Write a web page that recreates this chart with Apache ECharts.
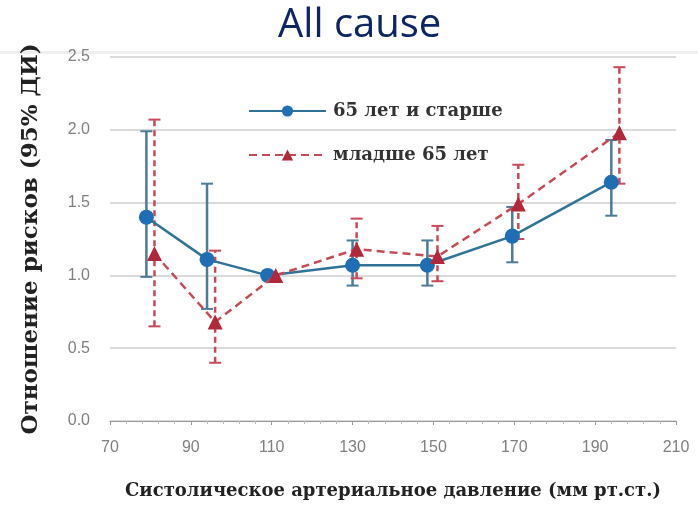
<!DOCTYPE html>
<html>
<head>
<meta charset="utf-8">
<script src="https://cdn.jsdelivr.net/npm/echarts@6/dist/echarts.min.js"></script>
<style>html,body{margin:0;padding:0;background:#fff}#c{width:698px;height:505px}</style>
</head>
<body>
<div id="c"></div>
<script>
var titleText = 'All cause';
var xAxisName = 'Систолическое артериальное давление (мм рт.ст.)';
var yAxisName = 'Отношение рисков (95% ДИ)';
var seriesNames = ['65 лет и старше', 'младше 65 лет'];

var oldX  = [79, 94, 109, 130, 148.5, 169.5, 194];
var oldY  = [1.40, 1.11, 1.00, 1.07, 1.07, 1.27, 1.64];
var oldLo = [0.99, 0.77, 1.00, 0.93, 0.93, 1.09, 1.41];
var oldHi = [1.99, 1.63, 1.00, 1.24, 1.24, 1.47, 1.93];

var youngX  = [81, 96, 111, 131, 151, 171, 196];
var youngY  = [1.15, 0.68, 1.00, 1.18, 1.13, 1.49, 1.98];
var youngLo = [0.65, 0.40, 1.00, 0.98, 0.96, 1.25, 1.63];
var youngHi = [2.07, 1.17, 1.00, 1.39, 1.34, 1.76, 2.43];

var xTicks = [70, 90, 110, 130, 150, 170, 190, 210];
var yTicks = [0, 0.5, 1.0, 1.5, 2.0, 2.5];

function zip2(a, b) { return a.map(function (v, i) { return [v, b[i]]; }); }

function errSeries(xs, lo, hi, color, dashed) {
  var data = [];
  xs.forEach(function (x, i) { if (hi[i] !== lo[i]) data.push([x, lo[i], hi[i]]); });
  return {
    type: 'custom',
    data: data,
    encode: { x: 0, y: [1, 2] },
    z: 1,
    silent: true,
    renderItem: function (params, api) {
      var x = api.value(0);
      var p1 = api.coord([x, api.value(1)]);
      var p2 = api.coord([x, api.value(2)]);
      var w = 6;
      var st = { stroke: color, lineWidth: 2.5, lineDash: dashed ? [6, 4] : null };
      var cst = { stroke: color, lineWidth: 2 };
      return {
        type: 'group',
        children: [
          { type: 'line', shape: { x1: p1[0], y1: p1[1], x2: p2[0], y2: p2[1] }, style: st },
          { type: 'line', shape: { x1: p1[0] - w, y1: p1[1], x2: p1[0] + w, y2: p1[1] }, style: cst },
          { type: 'line', shape: { x1: p2[0] - w, y1: p2[1], x2: p2[0] + w, y2: p2[1] }, style: cst }
        ]
      };
    }
  };
}

var chart = echarts.init(document.getElementById('c'), null, { renderer: 'canvas' });
chart.setOption({
  backgroundColor: '#fff',
  animation: false,
  title: {
    text: titleText,
    left: 273,
    top: 1,
    textStyle: { fontFamily: 'Open Sans', fontSize: 40, fontWeight: 'normal', color: '#0d2466' }
  },
  graphic: [
    { type: 'rect', shape: { x: 0, y: 51, width: 698, height: 3 }, style: { fill: '#efefef' }, silent: true }
  ],
  legend: {
    orient: 'vertical',
    left: 243,
    top: 97,
    itemWidth: 77,
    itemHeight: 14,
    itemGap: 26,
    data: seriesNames,
    textStyle: { fontFamily: 'DejaVu Serif', fontWeight: 'bold', fontSize: 18, color: '#333', padding: [0, 0, 0, 2] }
  },
  grid: { left: 110, right: 22, top: 57, bottom: 82 },
  xAxis: {
    type: 'value',
    min: 70, max: 210, interval: 20,
    name: xAxisName,
    nameLocation: 'middle',
    nameGap: 61,
    nameTextStyle: { fontFamily: 'DejaVu Serif', fontWeight: 'bold', fontSize: 18, color: '#222' },
    axisLine: { show: true, lineStyle: { color: '#999', width: 1.2 } },
    axisTick: { show: true, inside: false, length: 4, lineStyle: { color: '#999' } },
    minorTick: { show: true, splitNumber: 5, length: 3, lineStyle: { color: '#bbb' } },
    axisLabel: { margin: 19, fontFamily: 'Liberation Sans', fontSize: 16, color: '#808080', formatter: function (v) { return xTicks.indexOf(v) >= 0 ? String(v) : ''; } },
    splitLine: { show: false }
  },
  yAxis: {
    type: 'value',
    min: 0, max: 2.5, interval: 0.5,
    name: yAxisName,
    nameLocation: 'middle',
    nameGap: 67,
    nameRotate: 90,
    nameTextStyle: { fontFamily: 'DejaVu Serif', fontWeight: 'bold', fontSize: 23, color: '#222' },
    axisLine: { show: false },
    axisTick: { show: false },
    axisLabel: { margin: 20, fontFamily: 'Liberation Sans', fontSize: 16, color: '#808080', formatter: function (v) { return yTicks.indexOf(v) >= 0 ? v.toFixed(1) : ''; } },
    splitLine: { show: true, lineStyle: { color: '#cfcfcf', width: 1.5 } }
  },
  series: [
    errSeries(oldX, oldLo, oldHi, '#4d7c99', false),
    errSeries(youngX, youngLo, youngHi, '#c9485a', true),
    {
      name: seriesNames[0],
      type: 'line',
      data: zip2(oldX, oldY),
      z: 3,
      symbol: 'circle',
      symbolSize: 15,
      itemStyle: { color: '#1f6db3' },
      lineStyle: { color: '#2f7398', width: 2.5 }
    },
    {
      name: seriesNames[1],
      type: 'line',
      data: zip2(youngX, youngY),
      z: 4,
      symbol: 'triangle',
      symbolSize: 15,
      itemStyle: { color: '#b1283a' },
      lineStyle: { color: '#c44a55', width: 2.5, type: [8, 5] }
    }
  ]
});
</script>
</body>
</html>
